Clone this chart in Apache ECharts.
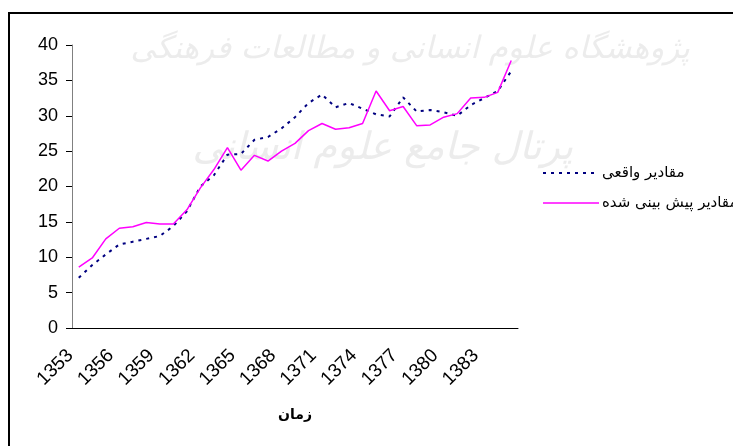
<!DOCTYPE html>
<html>
<head>
<meta charset="utf-8">
<script src="https://cdn.jsdelivr.net/npm/echarts@6/dist/echarts.min.js"></script>
<style>
  html, body { margin: 0; padding: 0; background: #fff; }
  #chart { width: 733px; height: 446px; }
</style>
</head>
<body>
<div id="chart"></div>
<script>
// سال ها
var years = [];
for (var y = 1353; y <= 1385; y++) years.push(String(y));

// مقادیر واقعی
var actual = [7.1, 8.9, 10.4, 11.8, 12.2, 12.6, 13.0, 14.4, 16.5, 20.0, 21.6,
    24.5, 24.6, 26.6, 27.0, 28.2, 29.8, 31.8, 33.0, 31.2, 31.8, 31.0,
    30.2, 29.9, 32.6, 30.6, 30.8, 30.5, 30.0, 31.5, 32.5, 33.5, 36.3];

// مقادیر پیش بینی شده
var predicted = [8.6, 9.9, 12.6, 14.1, 14.3, 14.9, 14.7, 14.7, 16.7, 19.8, 22.4,
    25.5, 22.3, 24.4, 23.6, 25.0, 26.1, 27.9, 28.9, 28.1, 28.3, 28.9,
    33.5, 30.7, 31.3, 28.6, 28.7, 29.8, 30.3, 32.5, 32.6, 33.3, 37.8];

var seriesNames = ['مقادیر واقعی', 'مقادیر پیش بینی شده'];
var colors = ['#000080', '#ff00ff'];

var myChart = echarts.init(document.getElementById('chart'));

// راهنما (legend) با خط چین دستی
var legendFont = '15px DejaVu Sans';
var legendItems = [];
for (var i = 0; i < seriesNames.length; i++) {
    var ly = 173 + i * 30;
    legendItems.push({
        type: 'line', z: 50,
        shape: { x1: 543, y1: ly, x2: 599, y2: ly },
        style: { stroke: colors[i], lineWidth: i === 0 ? 2 : 1.5, lineDash: i === 0 ? [3, 5] : null }
    });
    legendItems.push({
        type: 'text', z: 50, x: 602, y: ly,
        style: { text: seriesNames[i], fill: '#000', font: legendFont, textVerticalAlign: 'middle', textAlign: 'left' }
    });
}

var option = {
    backgroundColor: '#fff',
    animation: false,
    textStyle: { fontFamily: 'Liberation Sans, Arial, DejaVu Sans, sans-serif' },
    grid: { left: 72, top: 45, width: 446, height: 283 },
    xAxis: {
        type: 'category',
        data: years,
        name: 'زمان',
        nameLocation: 'middle',
        nameGap: 80,
        nameTextStyle: { fontSize: 14, fontWeight: 'bold', color: '#000', fontFamily: 'DejaVu Sans, sans-serif' },
        axisLine: { lineStyle: { color: '#000', width: 1 } },
        axisTick: { interval: 0, length: 5, lineStyle: { color: '#000' } },
        axisLabel: {
            interval: 2,
            rotate: 45,
            margin: 16,
            padding: [0, 12, 0, 0],
            fontSize: 19,
            color: '#000'
        },
        splitLine: { show: false }
    },
    yAxis: {
        type: 'value',
        min: 0,
        max: 40,
        interval: 5,
        axisLine: { show: true, lineStyle: { color: '#808080', width: 1 } },
        axisTick: { show: true, length: 6, lineStyle: { color: '#000' } },
        axisLabel: { fontSize: 18, color: '#000', margin: 14 },
        splitLine: { show: false }
    },
    graphic: [
        {
            type: 'rect', z: 100,
            shape: { x: 9, y: 13, width: 900, height: 600 },
            style: { fill: 'none', stroke: '#000', lineWidth: 2 }
        },
        {
            type: 'text', z: -10, right: 43, top: 34,
            style: { text: 'پژوهشگاه علوم انسانی و مطالعات فرهنگی', fill: '#ececec',
                font: 'italic 31px DejaVu Sans' }
        },
        {
            type: 'text', z: -10, right: 160, top: 130,
            style: { text: 'پرتال جامع علوم انسانی', fill: '#ececec',
                font: 'italic 38px DejaVu Sans' }
        }
    ].concat(legendItems),
    series: [
        {
            name: seriesNames[0],
            type: 'line',
            data: actual,
            symbol: 'none',
            color: colors[0],
            lineStyle: { color: colors[0], width: 2, type: [3, 5] }
        },
        {
            name: seriesNames[1],
            type: 'line',
            data: predicted,
            symbol: 'none',
            color: colors[1],
            lineStyle: { color: colors[1], width: 1.5 }
        }
    ]
};
myChart.setOption(option);
</script>
</body>
</html>
